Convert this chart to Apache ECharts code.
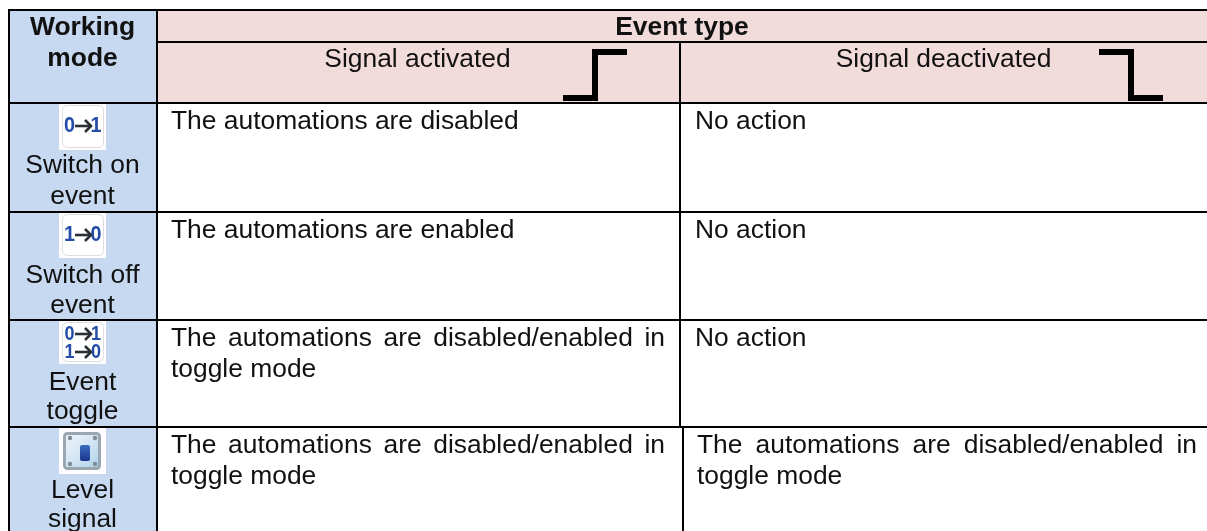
<!DOCTYPE html>
<html><head><meta charset="utf-8">
<style>html,body{margin:0;padding:0;background:#fff}#c{width:1207px;height:531px}</style>
<script src="https://cdn.jsdelivr.net/npm/echarts@6/dist/echarts.min.js"></script>
</head><body><div id="c"></div>
<script>
const headerMode = ['Working', 'mode'];
const headerEvent = 'Event type';
const headerColumns = ['Signal activated', 'Signal deactivated'];
const modeLabels = [['Switch on', 'event'], ['Switch off', 'event'], ['Event', 'toggle'], ['Level', 'signal']];
const iconCodes = ['0→1', '1→0', '0→1|1→0', 'lever'];
const activatedText = [
  ['The automations are disabled'],
  ['The automations are enabled'],
  ['The automations are disabled/enabled in', 'toggle mode'],
  ['The automations are disabled/enabled in', 'toggle mode']];
const deactivatedText = [
  ['No action'], ['No action'], ['No action'],
  ['The automations are disabled/enabled in', 'toggle mode']];
const justifiedLine = 'The automations are disabled/enabled in';
const risingEdge = [[563, 98], [595, 98], [595, 52], [627, 52]];
const fallingEdge = [[1099, 52], [1131, 52], [1131, 98], [1163, 98]];

const FONT = '"Liberation Sans", Arial, sans-serif';
const SIZE = 26.4, HEAD = 26.4;
const colX = [9, 157, 680, 1207], rowY = [10, 42, 103, 212, 320, 427, 531];
const iconBottom = [150, 258, 364, 474];
const labelY = [[166, 197], [276, 306], [383, 412], [491, 520]];
const INK = '#111', BLUE = '#c6d9f1', PINK = '#f2dcdb';
const meas = document.createElement('canvas').getContext('2d');

function txt(x, y, s, o, sx) {
  return { type: 'text', x, y, scaleX: sx || 1, style: Object.assign({ text: s, font: SIZE + 'px ' + FONT, fill: INK,
    textAlign: 'left', textVerticalAlign: 'middle' }, o || {}) };
}
function para(lines, left, right, top) {
  const out = [];
  lines.forEach((line, i) => {
    const y = top + i * 31;
    if (line === justifiedLine) {
      meas.font = SIZE + 'px ' + FONT;
      const wd = w => meas.measureText(w).width;
      const words = line.split(' ');
      const total = words.reduce((a, w) => a + wd(w), 0);
      const gap = (right - left - total) / (words.length - 1);
      let x = left;
      words.forEach(w => { out.push(txt(x, y, w)); x += wd(w) + gap; });
    } else out.push(txt(left, y, line));
  });
  return out;
}
function rect(x0, y0, x1, y1, fill, extra) {
  return Object.assign({ type: 'rect', shape: { x: x0, y: y0, width: x1 - x0, height: y1 - y0 }, style: { fill } }, extra || {});
}
function arrow(x0, x1, y, w) {
  return [
    { type: 'line', shape: { x1: x0, y1: y, x2: x1 - 2, y2: y }, style: { stroke: '#2b2f38', lineWidth: w } },
    { type: 'polyline', shape: { points: [[x1 - 7, y - 6], [x1 - 1, y], [x1 - 7, y + 6]] }, style: { stroke: '#2b2f38', lineWidth: w, fill: 'none' } }
  ];
}
function icon(code, y0, y1) {
  const c = [rect(59, y0, 106, y1, '#fdfdff')];
  if (code === 'lever') {
    c.push({ type: 'rect', shape: { x: 64.5, y: y0 + 6.5, width: 35, height: 35, r: 3 },
      style: { fill: new echarts.graphic.LinearGradient(0, 0, 1, 1, [
        { offset: 0, color: '#f2f6fa' }, { offset: 0.5, color: '#d3e6f4' }, { offset: 1, color: '#a6cdea' }]),
        stroke: '#9aa6b0', lineWidth: 3 } });
    [[70, 11], [95, 11], [70, 37], [95, 37]].forEach(p => c.push({ type: 'circle',
      shape: { cx: p[0], cy: y0 + p[1], r: 2.2 }, style: { fill: '#7f8b95' } }));
    c.push({ type: 'rect', shape: { x: 80, y: y0 + 18, width: 10, height: 16, r: 2 },
      style: { fill: new echarts.graphic.LinearGradient(0, 0, 0, 1, [
        { offset: 0, color: '#3a6fc0' }, { offset: 1, color: '#1c348f' }]) } });
    return c;
  }
  c.push({ type: 'rect', shape: { x: 62.5, y: y0 + 2.5, width: 41, height: y1 - y0 - 5, r: 5 },
    style: { fill: '#fff', stroke: '#dddddd', lineWidth: 1 } });
  const lines = code.split('|');
  const two = lines.length > 1;
  lines.forEach((s, i) => {
    const y = two ? y0 + 14 + i * 18 : y0 + 23;
    const [a, b] = s.split('→');
    const o = { font: 'bold ' + (two ? 20 : 22) + 'px ' + FONT, fill: '#234da6', textAlign: 'center' };
    c.push(txt(69.5, y, a, o, 0.9));
    c.push(txt(96, y, b, o, 0.9));
    c.push(...arrow(75, 92, y, 2.6));
  });
  return c;
}
function render() {
  const c = [];
  c.push(rect(colX[0], rowY[0], colX[1], rowY[6], BLUE));
  c.push(rect(colX[1], rowY[0], colX[3], rowY[2], PINK));
  const bold = { font: 'bold ' + HEAD + 'px ' + FONT, textAlign: 'center' };
  headerMode.forEach((s, i) => c.push(txt(82.5, 27.5 + i * 31, s, bold)));
  c.push(txt(682, 27.5, headerEvent, bold));
  c.push(txt(417.5, 59.5, headerColumns[0], { textAlign: 'center' }));
  c.push(txt(943.5, 59.5, headerColumns[1], { textAlign: 'center' }));
  modeLabels.forEach((ls, r) => {
    const top = rowY[r + 2];
    c.push(...icon(iconCodes[r], top, iconBottom[r]));
    ls.forEach((s, i) => c.push(txt(82.5, labelY[r][i], s, { textAlign: 'center' })));
    c.push(...para(activatedText[r], 171, 665, top + 19));
    c.push(...para(deactivatedText[r], r === 3 ? 697 : 695, 1197, top + 19));
  });
  const ln = (x1, y1, x2, y2) => ({ type: 'line', shape: { x1, y1, x2, y2 }, style: { stroke: '#000', lineWidth: 2 } });
  c.push(ln(9, 9, 9, 531));
  c.push(ln(8, 10, 1207, 10));
  c.push(ln(157, 42, 1207, 42));
  [103, 212, 320, 427].forEach(y => c.push(ln(8, y, 1207, y)));
  c.push(ln(157, 10, 157, 531));
  c.push(ln(680, 42, 680, 427));
  c.push(ln(683, 427, 683, 531));
  return { type: 'group', children: c };
}
const chart = echarts.init(document.getElementById('c'), null, { renderer: 'canvas' });
const edge = d => ({ type: 'line', data: d, showSymbol: false, silent: true, z: 5, animation: false,
  lineStyle: { color: '#000', width: 6, cap: 'butt', join: 'miter' } });
chart.setOption({
  animation: false, backgroundColor: '#fff',
  grid: { left: 0, right: 0, top: 0, bottom: 0 },
  xAxis: { type: 'value', min: 0, max: 1207, show: false },
  yAxis: { type: 'value', min: 0, max: 531, inverse: true, show: false },
  series: [
    { type: 'custom', data: [0], renderItem: render, silent: true, z: 1 },
    edge(risingEdge), edge(fallingEdge)
  ]
});
</script></body></html>
